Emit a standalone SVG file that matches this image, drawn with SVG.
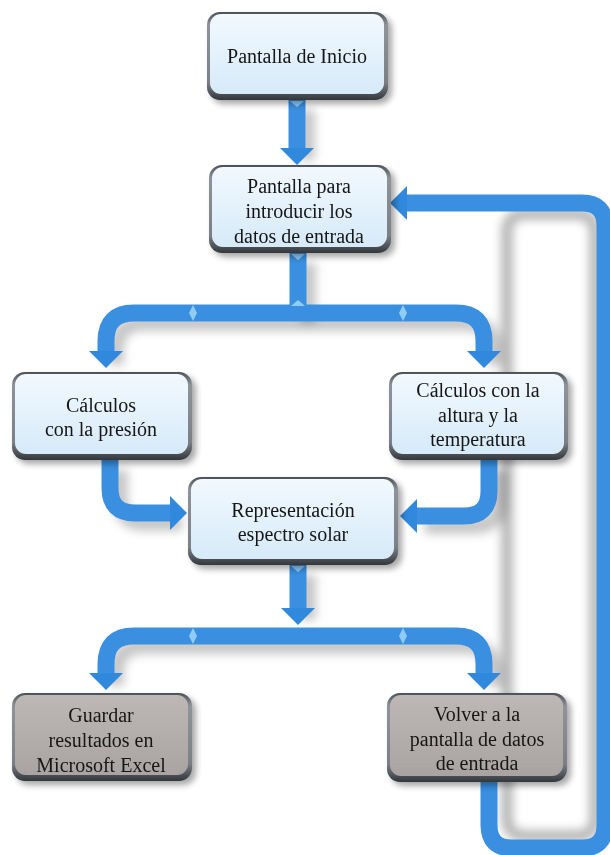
<svg xmlns="http://www.w3.org/2000/svg" width="610" height="855" viewBox="0 0 610 855">
  <defs>
    <linearGradient id="fillBlue" x1="0" y1="0" x2="0" y2="1">
      <stop offset="0" stop-color="#f2f9ff"/>
      <stop offset="1" stop-color="#d6eaf8"/>
    </linearGradient>
    <linearGradient id="fillGrey" x1="0" y1="0" x2="0" y2="1">
      <stop offset="0" stop-color="#bdb8b5"/>
      <stop offset="1" stop-color="#a9a4a1"/>
    </linearGradient>
    <linearGradient id="bevel" x1="0" y1="0" x2="0" y2="1">
      <stop offset="0" stop-color="#4a5056"/>
      <stop offset="0.15" stop-color="#8e949a"/>
      <stop offset="0.8" stop-color="#7a8086"/>
      <stop offset="1" stop-color="#33373c"/>
    </linearGradient>
    <filter id="boxShadow" x="-10%" y="-10%" width="125%" height="130%">
      <feGaussianBlur in="SourceAlpha" stdDeviation="3"/>
      <feOffset dx="4" dy="4" result="b"/>
      <feComponentTransfer><feFuncA type="linear" slope="0.35"/></feComponentTransfer>
      <feMerge><feMergeNode/><feMergeNode in="SourceGraphic"/></feMerge>
    </filter>
    <filter id="soft" x="-20%" y="-20%" width="140%" height="140%">
      <feGaussianBlur stdDeviation="5"/>
    </filter>
    <marker id="head" markerUnits="userSpaceOnUse" markerWidth="17" markerHeight="34" viewBox="0 0 17 34" refX="2" refY="17" orient="auto">
      <path d="M0,0 L17,17 L0,34 Z" fill="#3189de"/>
    </marker>
    <style>
      .pipe { fill: none; stroke: #3a8fe0; stroke-width: 17; }
      .shade { fill: none; stroke: #000; stroke-opacity: 0.22; stroke-width: 16; }
      .gem { fill: #8fcdf7; }
      .label { font-family: "Liberation Serif", "Times New Roman", serif; font-size: 20px; fill: #161616; text-anchor: middle; }
      .frame { fill: url(#bevel); }
      .blue { fill: url(#fillBlue); }
      .grey { fill: url(#fillGrey); }
    </style>
  </defs>

  <rect width="610" height="855" fill="#ffffff"/>

  <!-- soft shadows cast by the pipes -->
  <g id="pipe-shadows" filter="url(#soft)">
    <g transform="translate(10,10)">
      <path class="shade" d="M297,100 V150"/>
      <path class="shade" d="M298,253 V313"/>
      <path class="shade" d="M106,355 V341 Q106,313 134,313 H456 Q484,313 484,341 V355"/>
      <path class="shade" d="M110,460 V488 Q110,513 135,513 H172"/>
      <path class="shade" d="M489,460 V491 Q489,516 464,516 H415"/>
      <path class="shade" d="M298,565 V610"/>
      <path class="shade" d="M106,676 V664 Q106,636 134,636 H456 Q484,636 484,664 V676"/>
    </g>
    <rect x="507" y="214" width="88" height="622" rx="16" fill="none" stroke="#000" stroke-opacity="0.28" stroke-width="12"/>
  </g>

  <!-- connectors -->
  <g id="connectors">
    <path class="pipe" d="M297,100 V150" marker-end="url(#head)"/>
    <path class="pipe" d="M298,253 V313"/>
    <path class="pipe" d="M298,313 H134 Q106,313 106,341 V353" marker-end="url(#head)"/>
    <path class="pipe" d="M298,313 H456 Q484,313 484,341 V353" marker-end="url(#head)"/>
    <path class="pipe" d="M110,460 V488 Q110,513 135,513 H172" marker-end="url(#head)"/>
    <path class="pipe" d="M489,460 V491 Q489,516 464,516 H415" marker-end="url(#head)"/>
    <path class="pipe" d="M298,565 V610" marker-end="url(#head)"/>
    <path class="pipe" d="M298,636 H134 Q106,636 106,664 V675" marker-end="url(#head)"/>
    <path class="pipe" d="M298,636 H456 Q484,636 484,664 V675" marker-end="url(#head)"/>
    <path class="pipe" d="M489,782 V825 Q489,848 512,848 H582 Q605,848 605,825 V226 Q605,203 582,203 H405" marker-end="url(#head)"/>
    <!-- highlight facets on the pipes -->
    <path class="gem" d="M193,305 L197,313 L193,321 L189,313 Z"/>
    <path class="gem" d="M403,305 L407,313 L403,321 L399,313 Z"/>
    <path class="gem" d="M193,628 L197,636 L193,644 L189,636 Z"/>
    <path class="gem" d="M403,628 L407,636 L403,644 L399,636 Z"/>
    <path class="gem" d="M291,306 L298,300 L305,306 Z"/>
    <path class="gem" d="M291,254 L305,254 L298,260 Z"/>
    <path class="gem" d="M290,101 L304,101 L297,107 Z"/>
    <path class="gem" d="M291,566 L305,566 L298,572 Z"/>
  </g>

  <!-- nodes -->
  <g id="inicio" filter="url(#boxShadow)">
    <rect class="frame" x="207" y="12" width="181" height="88" rx="13"/>
    <rect class="blue" x="210" y="14" width="174" height="80" rx="11"/>
    <text class="label" x="297" y="63">Pantalla de Inicio</text>
  </g>

  <g id="entrada" filter="url(#boxShadow)">
    <rect class="frame" x="209" y="165" width="182" height="88" rx="13"/>
    <rect class="blue" x="212" y="167" width="175" height="80" rx="11"/>
    <text class="label" x="299" y="193">Pantalla para</text>
    <text class="label" x="299" y="218">introducir los</text>
    <text class="label" x="299" y="243">datos de entrada</text>
  </g>

  <g id="presion" filter="url(#boxShadow)">
    <rect class="frame" x="12" y="372" width="180" height="88" rx="13"/>
    <rect class="blue" x="15" y="374" width="173" height="80" rx="11"/>
    <text class="label" x="101" y="412">Cálculos</text>
    <text class="label" x="101" y="436">con la presión</text>
  </g>

  <g id="altura" filter="url(#boxShadow)">
    <rect class="frame" x="389" y="372" width="179" height="88" rx="13"/>
    <rect class="blue" x="392" y="374" width="172" height="80" rx="11"/>
    <text class="label" x="478" y="397">Cálculos con la</text>
    <text class="label" x="478" y="422">altura y la</text>
    <text class="label" x="478" y="446">temperatura</text>
  </g>

  <g id="espectro" filter="url(#boxShadow)">
    <rect class="frame" x="188" y="477" width="210" height="88" rx="13"/>
    <rect class="blue" x="191" y="479" width="203" height="80" rx="11"/>
    <text class="label" x="293" y="517">Representación</text>
    <text class="label" x="293" y="541">espectro solar</text>
  </g>

  <g id="excel" filter="url(#boxShadow)">
    <rect class="frame" x="12" y="693" width="180" height="88" rx="13"/>
    <rect class="grey" x="15" y="695" width="173" height="80" rx="11"/>
    <text class="label" x="101" y="722">Guardar</text>
    <text class="label" x="101" y="747">resultados en</text>
    <text class="label" x="101" y="772">Microsoft Excel</text>
  </g>

  <g id="volver" filter="url(#boxShadow)">
    <rect class="frame" x="387" y="693" width="180" height="89" rx="13"/>
    <rect class="grey" x="390" y="695" width="173" height="81" rx="11"/>
    <text class="label" x="477" y="721">Volver a la</text>
    <text class="label" x="477" y="746">pantalla de datos</text>
    <text class="label" x="477" y="770">de entrada</text>
  </g>
</svg>
